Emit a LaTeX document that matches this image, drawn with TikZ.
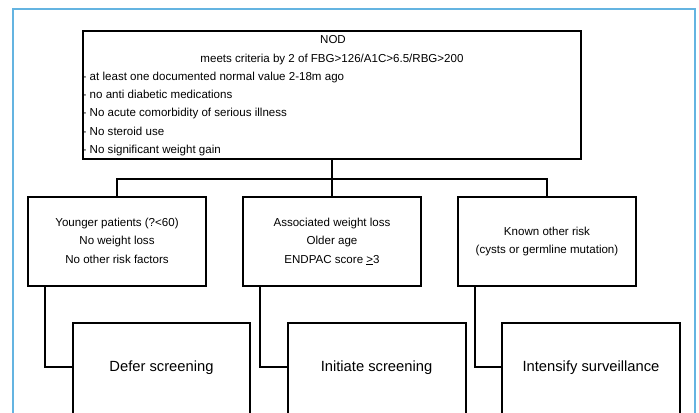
\documentclass[tikz,border=0pt]{standalone}
\usepackage{fontspec}
\setmainfont{Liberation Sans}
\begin{document}
\begin{tikzpicture}[x=1bp,y=-1bp,
  box/.style={draw=black, line width=2bp, inner sep=0pt, fill=white},
  conn/.style={draw=black, line width=1.2bp},
  txt/.style={inner sep=0pt, text height=8.5bp, text depth=2.5bp, font=\fontsize{11.6}{13}\selectfont},
  ltxt/.style={txt, anchor=west},
  big/.style={inner sep=0pt, text height=11bp, text depth=3bp, font=\fontsize{14.8}{17}\selectfont}]
\clip (0,0) rectangle (699,412);
\fill[white] (0,0) rectangle (699,412);
\definecolor{framecol}{RGB}{100,180,225}
\draw[framecol, line width=1.5bp] (13,430) -- (13,9) -- (695,9) -- (695,430);

% top box
\node[box, minimum width=498bp, minimum height=128bp] (top) at (332,95) {};
\node[txt] (l0) at (333,40) {NOD};
\node[txt] (l1) at (332,59) {meets criteria by 2 of FBG>126/A1C>6.5/RBG>200};
\node[ltxt] (l2) at (82.5,77) {- at least one documented normal value 2-18m ago};
\node[ltxt] (l3) at (82.5,95) {- no anti diabetic medications};
\node[ltxt] (l4) at (82.5,113) {- No acute comorbidity of serious illness};
\node[ltxt] (l5) at (82.5,132) {- No steroid use};
\node[ltxt] (l6) at (82.5,150) {- No significant weight gain};

% middle row
\node[box, minimum width=178bp, minimum height=89bp] (c1) at (117,241.5) {};
\node[box, minimum width=178bp, minimum height=89bp] (c2) at (332,241.5) {};
\node[box, minimum width=178bp, minimum height=89bp] (c3) at (547,241.5) {};
\node[txt] (c1a) at (117,223) {Younger patients (?<60)};
\node[txt] (c1b) at (117,241) {No weight loss};
\node[txt] (c1c) at (117,260) {No other risk factors};
\node[txt] (c2a) at (332,223) {Associated weight loss};
\node[txt] (c2b) at (332,241) {Older age};
\node[txt] (c2c) at (332,260) {ENDPAC score \underline{>}3};
\node[txt] (c3a) at (547,232) {Known other risk};
\node[txt] (c3b) at (547,250) {(cysts or germline mutation)};

\coordinate (j) at (332,179);
\draw[conn] (top.south) -- (c2.north);
\draw[conn] (c1.north) |- (j) -| (c3.north);

% bottom row
\node[box, minimum width=177bp, minimum height=100bp] (b1) at (161.5,373) {};
\node[box, minimum width=178bp, minimum height=100bp] (b2) at (376.5,373) {};
\node[box, minimum width=178bp, minimum height=100bp] (b3) at (591,373) {};
\node[big] (t1) at (161.5,367) {Defer screening};
\node[big] (t2) at (376.5,367) {Initiate screening};
\node[big] (t3) at (591,367) {Intensify surveillance};

\draw[conn] ([xshift=18bp]c1.south west) |- (b1.west |- t1);
\draw[conn] ([xshift=18bp]c2.south west) |- (b2.west |- t2);
\draw[conn] ([xshift=18bp]c3.south west) |- (b3.west |- t3);
\end{tikzpicture}
\end{document}
